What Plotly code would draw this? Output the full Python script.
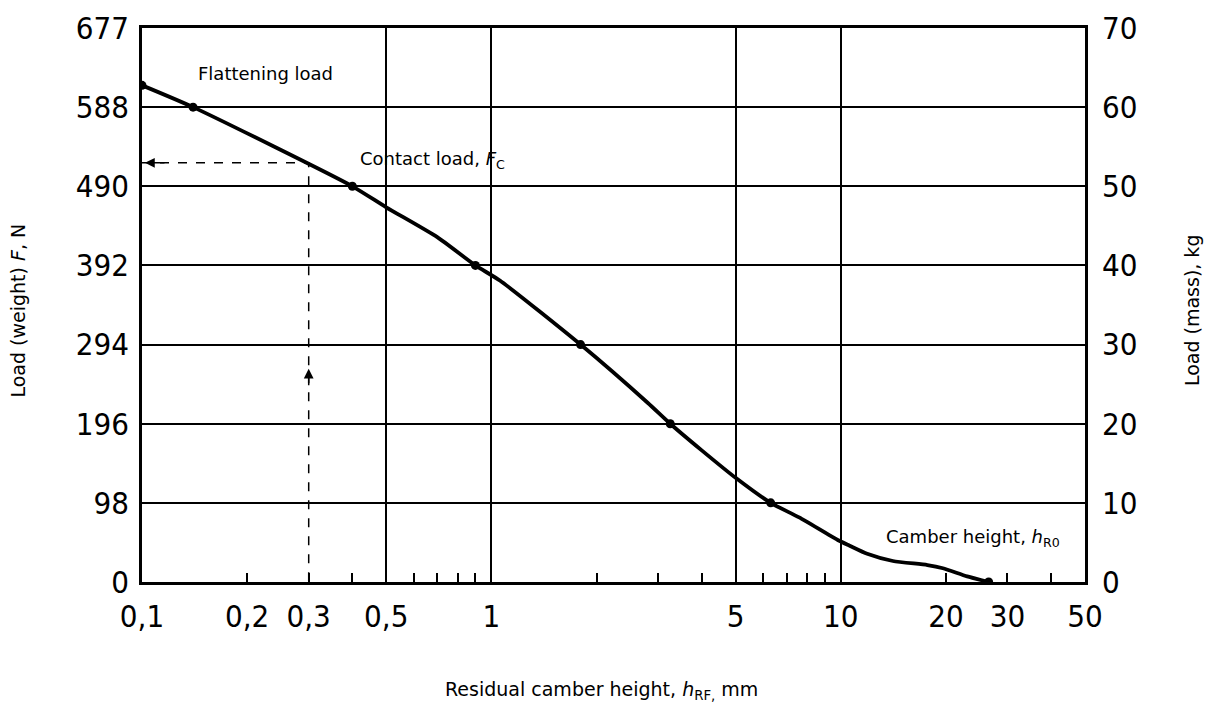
import math
import plotly.graph_objects as go

# ---- data ----
curve_h = [0.1, 0.14, 0.4, 0.5, 0.7, 0.9, 1.06, 1.8, 2.8, 3.25, 4.0, 5.0, 6.3, 7.6, 9.8,
           10.6, 11.9, 14.1, 17.7, 19.6, 23.0, 26.5]
curve_f = [615, 588, 490, 464, 427, 392, 373, 294, 222, 196, 163, 129, 98, 80, 52,
           45, 35, 26, 21, 17, 7, 0]
marker_h = [0.1, 0.14, 0.4, 0.9, 1.8, 3.25, 6.3, 26.5]
marker_f = [615, 588, 490, 392, 294, 196, 98, 0]

contact_h = 0.3
contact_f = 519

x_tickvals = [0.1, 0.2, 0.3, 0.5, 1, 5, 10, 20, 30, 50]
x_ticktext = ["0,1", "0,2", "0,3", "0,5", "1", "5", "10", "20", "30", "50"]
x_minor = [0.4, 0.6, 0.7, 0.8, 0.9, 2, 3, 4, 6, 7, 8, 9, 40]
x_grid = [0.5, 1, 5, 10]

y_tickvals = [0, 98, 196, 294, 392, 490, 588, 686]
y_ticktext = ["0", "98", "196", "294", "392", "490", "588", "677"]
kg_tickvals = [0, 10, 20, 30, 40, 50, 60, 70]

TICKFONT = dict(family="DejaVu Sans Condensed, Liberation Sans Narrow, Arial Narrow, sans-serif",
                size=31, color="black")
TXTFONT = dict(family="DejaVu Sans, sans-serif", size=18, color="black")
TITLEFONT = dict(family="DejaVu Sans, sans-serif", size=19, color="black")

fig = go.Figure()

# dashed contact load guide
fig.add_trace(go.Scatter(x=[x_tickvals[0], contact_h, contact_h], y=[contact_f, contact_f, 0],
                         mode="lines", line=dict(color="black", width=1.5, dash="dash"),
                         hoverinfo="skip", showlegend=False))
# curve
fig.add_trace(go.Scatter(x=curve_h, y=curve_f, mode="lines",
                         line=dict(color="black", width=3.8, shape="spline", smoothing=0.6),
                         showlegend=False))
fig.add_trace(go.Scatter(x=marker_h, y=marker_f, mode="markers",
                         marker=dict(color="black", size=9), showlegend=False))
# invisible traces for helper axes
fig.add_trace(go.Scatter(x=[1], y=[0], xaxis="x2", yaxis="y", mode="markers",
                         marker=dict(opacity=0), hoverinfo="skip", showlegend=False))
fig.add_trace(go.Scatter(x=[1], y=[0], xaxis="x", yaxis="y2", mode="markers",
                         marker=dict(opacity=0), hoverinfo="skip", showlegend=False))

xr = [math.log10(0.1), math.log10(50)]

fig.update_layout(
    width=1207, height=710,
    margin=dict(l=142, r=122, t=28, b=128),
    paper_bgcolor="white", plot_bgcolor="white",
    xaxis=dict(type="log", range=xr, tickvals=x_tickvals, ticktext=x_ticktext,
               ticks="inside", ticklen=9, tickwidth=1.5, tickcolor="black",
               showgrid=False, zeroline=False, showline=True, linecolor="black",
               linewidth=2.5, mirror=True, tickfont=TICKFONT, ticklabelstandoff=5,
               automargin=False,
               minor=dict(tickvals=x_minor, ticks="inside", ticklen=9, tickwidth=1.5,
                          tickcolor="black", showgrid=False)),
    xaxis2=dict(type="log", range=xr, overlaying="x", tickvals=x_grid, showticklabels=False,
                ticks="", showgrid=True, gridcolor="black", gridwidth=1.5, zeroline=False,
                showline=False, automargin=False),
    yaxis=dict(range=[0, 686], tickvals=y_tickvals, ticktext=y_ticktext, ticks="",
               showgrid=True, gridcolor="black", gridwidth=1.5, zeroline=False,
               showline=True, linecolor="black", linewidth=2.5, mirror=True,
               tickfont=TICKFONT, ticklabelstandoff=4, automargin=False),
    yaxis2=dict(range=[0, 70], tickvals=kg_tickvals, overlaying="y", side="right",
                showgrid=False, zeroline=False, ticks="", tickfont=TICKFONT,
                ticklabelstandoff=16, automargin=False),
)

# arrows on contact-load guides
fig.add_annotation(x=math.log10(0.1), y=contact_f, ax=24, ay=0, xref="x", yref="y",
                   showarrow=True, arrowhead=2, arrowsize=1.3, arrowwidth=1.5,
                   arrowcolor="black", text="", standoff=3)
fig.add_annotation(x=math.log10(contact_h), y=264, ax=0, ay=18, xref="x", yref="y",
                   showarrow=True, arrowhead=2, arrowsize=1.3, arrowwidth=1.5,
                   arrowcolor="black", text="")

# text labels
fig.add_annotation(x=math.log10(0.225), y=630, xref="x", yref="y", text="Flattening load",
                   showarrow=False, font=TXTFONT, xanchor="center")
fig.add_annotation(x=math.log10(0.415), y=523, xref="x", yref="y",
                   text="Contact load, <i>F</i><sub>C</sub>",
                   showarrow=False, font=TXTFONT, xanchor="left")
fig.add_annotation(x=math.log10(13.3), y=55, xref="x", yref="y",
                   text="Camber height, <i>h</i><sub>R0</sub>",
                   showarrow=False, font=TXTFONT, xanchor="left")

fig.add_annotation(x=0.487, y=-0.195, xref="paper", yref="paper",
                   xanchor="center", yanchor="middle",
                   text="Residual camber height, <i>h</i><sub>RF,</sub> mm",
                   showarrow=False, font=TITLEFONT)
fig.add_annotation(x=-0.1315, y=0.49, xref="paper", yref="paper", textangle=-90,
                   xanchor="center", yanchor="middle",
                   text="Load (weight) <i>F</i>, N",
                   showarrow=False, font=TITLEFONT)
fig.add_annotation(x=1.113, y=0.49, xref="paper", yref="paper", textangle=-90,
                   xanchor="center", yanchor="middle",
                   text="Load (mass), kg",
                   showarrow=False, font=TITLEFONT)

fig.write_html("out.html", config={"displayModeBar": False},
               post_script="document.body.style.margin='0px';")
